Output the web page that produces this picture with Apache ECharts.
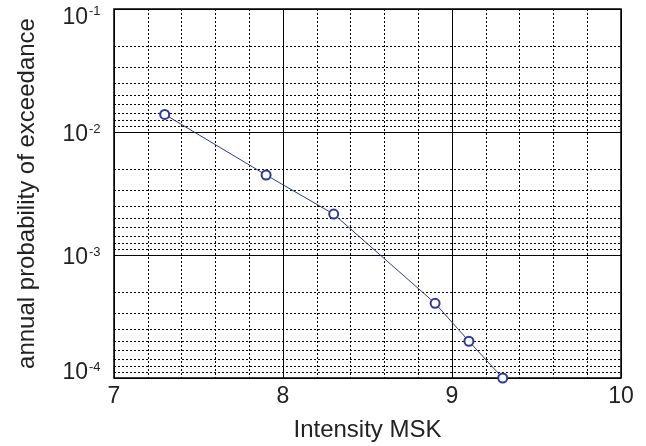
<!DOCTYPE html>
<html>
<head>
<meta charset="utf-8">
<script src="https://cdn.jsdelivr.net/npm/echarts@6/dist/echarts.min.js"></script>
<style>
html,body{margin:0;padding:0;background:#fff;}
#chart{width:646px;height:446px;}
</style>
</head>
<body>
<div id="chart"></div>
<script>
// ---- data ----
var intensity = [7.3, 7.9, 8.3, 8.9, 9.1, 9.3];
var probability = [0.0139, 0.00447, 0.00215, 0.000405, 0.000199, 0.0001];
var xTickLabels = ['7', '8', '9', '10'];
var yTickExponents = [-4, -3, -2, -1];
var yTickBase = '10';
// minor horizontal grid lines as drawn in the reference (multiples of each decade)
var yMinorMantissas = [1.11, 1.25, 1.43, 1.67, 2, 2.5, 3.33, 5];
var yMinorDecades = [1e-4, 1e-3, 1e-2];
var xTitle = 'Intensity MSK';
var yTitle = 'annual probability of exceedance';

var FONT = '"Liberation Sans", Arial, Helvetica, sans-serif';
var TXT = '#222';
var lineColor = '#2b3a9c';
var X_MIN = 7, X_MAX = 10;

var seriesData = intensity.map(function (x, i) { return [x, probability[i]]; });
var minorGrid = [];
yMinorDecades.forEach(function (d) {
  yMinorMantissas.forEach(function (m) {
    minorGrid.push([{ coord: [X_MIN, m * d] }, { coord: [X_MAX, m * d] }]);
  });
});

function expOf(value) { return Math.round(Math.log10(value)); }
function posKey(value) {
  var idx = yTickExponents.indexOf(expOf(value));
  return idx === yTickExponents.length - 1 ? 't' : (idx === 0 ? 'l' : 'n');
}
function padShift(shift) {
  return shift >= 0 ? [2 * shift, 0, 0, 0] : [0, 0, -2 * shift, 0];
}
var baseStyle = { fontSize: 23, lineHeight: 24, fontFamily: FONT, color: TXT };
var supStyle = { fontSize: 13, lineHeight: 14, fontFamily: FONT, color: TXT };
function mk(base, shift) { var o = Object.assign({}, base); o.padding = padShift(shift); return o; }

var commonYAxis = {
  type: 'log', logBase: 10, min: 1e-4, max: 1e-1,
  axisLine: { show: false },
  axisTick: { show: false }
};

var chart = echarts.init(document.getElementById('chart'), null, { renderer: 'canvas' });
chart.setOption({
  animation: false,
  backgroundColor: '#fff',
  grid: {
    left: 114, right: 25, top: 9, bottom: 68,
    outerBoundsMode: 'none', containLabel: false,
    show: true, borderColor: '#000', borderWidth: 1.5, backgroundColor: 'transparent'
  },
  xAxis: {
    type: 'value', min: X_MIN, max: X_MAX, interval: 1,
    name: xTitle, nameLocation: 'middle', nameGap: 40,
    nameTextStyle: { fontSize: 24, fontFamily: FONT, color: TXT },
    axisLine: { show: false },
    axisTick: { show: false },
    axisLabel: {
      margin: 7, fontSize: 23, fontFamily: FONT, color: TXT,
      formatter: function (v) { return xTickLabels[Math.round(v - X_MIN)]; }
    },
    splitLine: { show: true, lineStyle: { color: '#000', width: 1, type: 'solid' } },
    minorTick: { show: false, splitNumber: 5 },
    minorSplitLine: { show: true, lineStyle: { color: '#000', width: 1, type: [2, 2] } }
  },
  yAxis: [
    Object.assign({}, commonYAxis, {
      name: yTitle, nameLocation: 'middle', nameGap: 75,
      nameTextStyle: { fontSize: 24, fontFamily: FONT, color: TXT },
      axisLabel: {
        margin: 26, align: 'right',
        formatter: function (v) { var k = posKey(v); return '{b' + k + '|' + yTickBase + '}'; },
        rich: { bn: mk(baseStyle, 3), bt: mk(baseStyle, 8.5), bl: mk(baseStyle, -5) }
      },
      splitLine: { show: true, lineStyle: { color: '#000', width: 1, type: 'solid' } }
    }),
    Object.assign({}, commonYAxis, {
      position: 'left',
      axisLabel: {
        margin: 25, align: 'left',
        formatter: function (v) { var k = posKey(v); return '{s' + k + '|' + expOf(v) + '}'; },
        rich: { sn: mk(supStyle, -3), st: mk(supStyle, 2.5), sl: mk(supStyle, -11) }
      },
      splitLine: { show: false }
    })
  ],
  series: [{
    type: 'line',
    data: seriesData,
    yAxisIndex: 0,
    clip: true,
    symbol: 'emptyCircle',
    symbolSize: 9,
    lineStyle: { color: lineColor, width: 1 },
    itemStyle: { color: lineColor, borderColor: lineColor, borderWidth: 1 },
    z: 5,
    markLine: {
      silent: true,
      symbol: ['none', 'none'],
      label: { show: false },
      lineStyle: { color: '#000', width: 1, type: [2, 2] },
      emphasis: { disabled: true },
      data: minorGrid,
      z: 1
    }
  }]
});
</script>
</body>
</html>
